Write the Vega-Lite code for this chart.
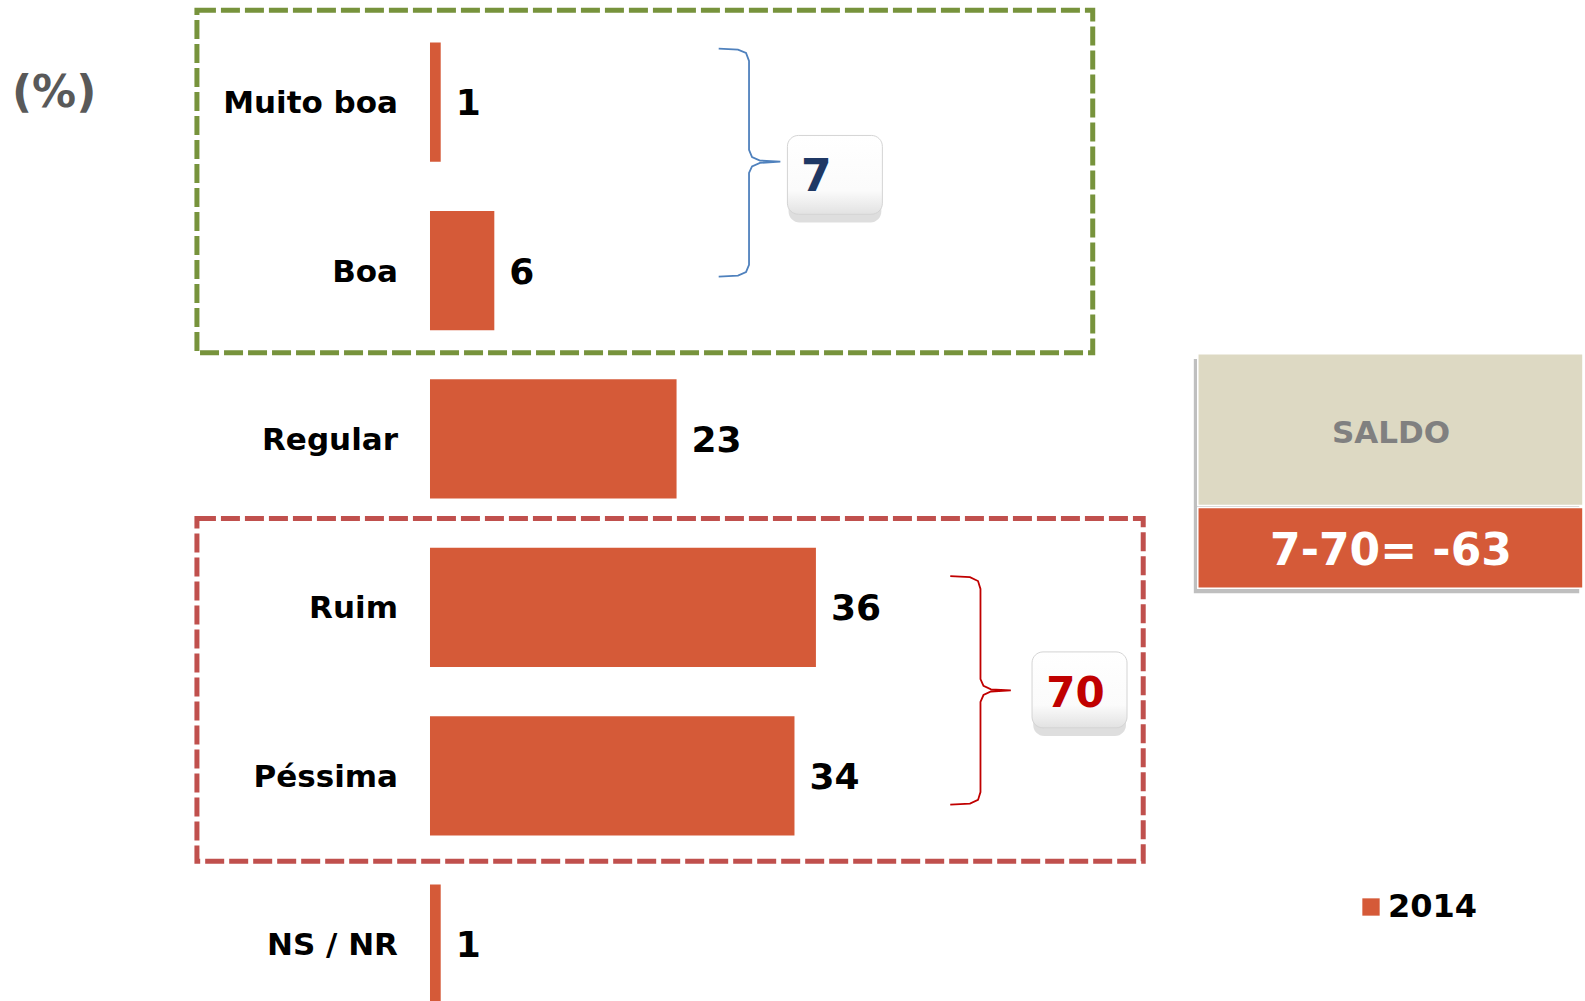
{
  "$schema": "https://vega.github.io/schema/vega-lite/v6.json",
  "width": 1585,
  "height": 1001,
  "autosize": {"type": "none"},
  "padding": 0,
  "background": "white",
  "config": {"view": {"stroke": null}, "font": "DejaVu Sans"},
  "layer": [
    {
      "data": {"values": [
        {"categoria": "Muito boa", "pct": 1, "ano": "2014"},
        {"categoria": "Boa", "pct": 6, "ano": "2014"},
        {"categoria": "Regular", "pct": 23, "ano": "2014"},
        {"categoria": "Ruim", "pct": 36, "ano": "2014"},
        {"categoria": "Péssima", "pct": 34, "ano": "2014"},
        {"categoria": "NS / NR", "pct": 1, "ano": "2014"}
      ]},
      "encoding": {
        "y": {
          "field": "categoria", "type": "nominal", "sort": null,
          "scale": {"domain": ["Muito boa", "Boa", "Regular", "Ruim", "Péssima", "NS / NR"], "range": [0, 1046.3], "paddingInner": 0.292, "paddingOuter": 0.2524},
          "axis": null
        }
      },
      "layer": [
        {
          "mark": {"type": "bar"},
          "encoding": {
            "x": {"field": "pct", "type": "quantitative", "scale": {"domain": [-40.11, 107.74], "nice": false, "zero": false}, "axis": null},
            "x2": {"datum": 0},
            "color": {
              "field": "ano", "type": "nominal",
              "scale": {"range": ["#D55A38"]},
              "legend": {"orient": "none", "legendX": 1355, "legendY": 891, "title": null, "symbolType": "square", "symbolSize": 300, "symbolStrokeWidth": 0, "labelFontSize": 32, "labelFont": "DejaVu Sans", "labelFontWeight": "bold", "labelColor": "black", "labelOffset": 1, "padding": 0}
            }
          }
        },
        {
          "mark": {"type": "text", "align": "right", "baseline": "middle", "dx": -32, "dy": 2, "fontSize": 31, "fontWeight": "bold", "color": "black"},
          "encoding": {"x": {"datum": 0}, "text": {"field": "categoria"}}
        },
        {
          "mark": {"type": "text", "align": "left", "baseline": "middle", "dx": 15, "dy": 2, "fontSize": 36, "fontWeight": "bold", "color": "black"},
          "encoding": {"x": {"field": "pct", "type": "quantitative"}, "text": {"field": "pct"}}
        }
      ]
    },
    {
      "data": {"values": [{}]},
      "layer": [
        {
          "mark": {"type": "rect", "fill": "white", "fillOpacity": 0, "stroke": "#77933C", "strokeWidth": 5, "strokeDash": [19, 5]},
          "encoding": {
            "x": {"datum": -21.74},
            "x2": {"datum": 61.82},
            "y": {"datum": -0.545, "type": "quantitative", "scale": {"domain": [-0.6063, 5.338], "reverse": true, "nice": false, "zero": false}, "axis": null},
            "y2": {"datum": 1.489}
          }
        },
        {
          "mark": {"type": "rect", "fill": "white", "fillOpacity": 0, "stroke": "#C0504D", "strokeWidth": 5, "strokeDash": [19, 5]},
          "encoding": {"x": {"datum": -21.74}, "x2": {"datum": 66.53}, "y": {"datum": 2.473}, "y2": {"datum": 4.508}}
        },
        {
          "data": {"values": [
            {"i": 1, "u": 26.93, "r": -0.318}, {"i": 2, "u": 28.73, "r": -0.312}, {"i": 3, "u": 29.48, "r": -0.292},
            {"i": 4, "u": 29.76, "r": -0.244}, {"i": 5, "u": 29.76, "r": 0.284}, {"i": 6, "u": 30.04, "r": 0.326},
            {"i": 7, "u": 30.78, "r": 0.347}, {"i": 8, "u": 32.68, "r": 0.354}, {"i": 9, "u": 30.78, "r": 0.361},
            {"i": 10, "u": 30.04, "r": 0.382}, {"i": 11, "u": 29.76, "r": 0.421}, {"i": 12, "u": 29.76, "r": 0.967},
            {"i": 13, "u": 29.48, "r": 1.009}, {"i": 14, "u": 28.73, "r": 1.030}, {"i": 15, "u": 26.93, "r": 1.036}
          ]},
          "mark": {"type": "line", "stroke": "#4F81BD", "strokeWidth": 1.8},
          "encoding": {"x": {"field": "u", "type": "quantitative"}, "y": {"field": "r", "type": "quantitative"}, "order": {"field": "i"}}
        },
        {
          "data": {"values": [
            {"i": 1, "u": 48.53, "r": 2.815}, {"i": 2, "u": 50.37, "r": 2.821}, {"i": 3, "u": 51.12, "r": 2.844},
            {"i": 4, "u": 51.35, "r": 2.891}, {"i": 5, "u": 51.35, "r": 3.426}, {"i": 6, "u": 51.63, "r": 3.467},
            {"i": 7, "u": 52.33, "r": 3.487}, {"i": 8, "u": 54.18, "r": 3.493}, {"i": 9, "u": 52.33, "r": 3.500},
            {"i": 10, "u": 51.63, "r": 3.521}, {"i": 11, "u": 51.35, "r": 3.562}, {"i": 12, "u": 51.35, "r": 4.097},
            {"i": 13, "u": 51.12, "r": 4.144}, {"i": 14, "u": 50.37, "r": 4.166}, {"i": 15, "u": 48.53, "r": 4.172}
          ]},
          "mark": {"type": "line", "stroke": "#C00000", "strokeWidth": 1.8},
          "encoding": {"x": {"field": "u", "type": "quantitative"}, "y": {"field": "r", "type": "quantitative"}, "order": {"field": "i"}}
        },
        {
          "mark": {"type": "rect", "cornerRadius": 11, "fill": "#a0a0a0", "opacity": 0.35},
          "encoding": {"x": {"datum": 33.45}, "x2": {"datum": 42.1}, "y": {"datum": 0.23}, "y2": {"datum": 0.715}}
        },
        {
          "mark": {"type": "rect", "cornerRadius": 11, "stroke": "#d4d4d4", "strokeWidth": 1,
            "fill": {"gradient": "linear", "x1": 0, "y1": 0, "x2": 0, "y2": 1, "stops": [{"offset": 0, "color": "#ffffff"}, {"offset": 0.7, "color": "#fbfbfb"}, {"offset": 1, "color": "#e2e2e2"}]}},
          "encoding": {"x": {"datum": 33.34}, "x2": {"datum": 42.2}, "y": {"datum": 0.198}, "y2": {"datum": 0.666}}
        },
        {
          "data": {"values": [{"t": "7"}]},
          "mark": {"type": "text", "align": "left", "baseline": "middle", "dy": 3, "fontSize": 44, "fontWeight": "bold", "color": "#1F3864"},
          "encoding": {"x": {"datum": 34.61}, "y": {"datum": 0.432}, "text": {"field": "t"}}
        },
        {
          "mark": {"type": "rect", "cornerRadius": 11, "fill": "#a0a0a0", "opacity": 0.35},
          "encoding": {"x": {"datum": 56.27}, "x2": {"datum": 64.92}, "y": {"datum": 3.295}, "y2": {"datum": 3.765}}
        },
        {
          "mark": {"type": "rect", "cornerRadius": 11, "stroke": "#d4d4d4", "strokeWidth": 1,
            "fill": {"gradient": "linear", "x1": 0, "y1": 0, "x2": 0, "y2": 1, "stops": [{"offset": 0, "color": "#ffffff"}, {"offset": 0.7, "color": "#fbfbfb"}, {"offset": 1, "color": "#e2e2e2"}]}},
          "encoding": {"x": {"datum": 56.16}, "x2": {"datum": 65.02}, "y": {"datum": 3.265}, "y2": {"datum": 3.716}}
        },
        {
          "data": {"values": [{"t": "70"}]},
          "mark": {"type": "text", "align": "center", "baseline": "middle", "dy": 3, "fontSize": 42, "fontWeight": "bold", "color": "#C00000"},
          "encoding": {"x": {"datum": 60.21}, "y": {"datum": 3.499}, "text": {"field": "t"}}
        },
        {
          "mark": {"type": "rect", "fill": "#7f7f7f", "opacity": 0.5},
          "encoding": {"x": {"datum": 71.25}, "x2": {"datum": 107.2}, "y": {"datum": 1.525}, "y2": {"datum": 2.917}}
        },
        {
          "mark": {"type": "rect", "fill": "#DDD9C3", "stroke": "white", "strokeWidth": 1.5},
          "encoding": {"x": {"datum": 71.62}, "x2": {"datum": 107.55}, "y": {"datum": 1.495}, "y2": {"datum": 2.395}}
        },
        {
          "mark": {"type": "rect", "fill": "#D55A38", "stroke": "white", "strokeWidth": 1.5},
          "encoding": {"x": {"datum": 71.62}, "x2": {"datum": 107.55}, "y": {"datum": 2.407}, "y2": {"datum": 2.887}}
        },
        {
          "data": {"values": [{"t": "SALDO"}]},
          "mark": {"type": "text", "align": "center", "baseline": "middle", "dy": 2, "fontSize": 31, "fontWeight": "bold", "color": "#808080"},
          "encoding": {"x": {"datum": 89.64}, "y": {"datum": 1.957}, "text": {"field": "t"}}
        },
        {
          "data": {"values": [{"t": "7-70= -63"}]},
          "mark": {"type": "text", "align": "center", "baseline": "middle", "dy": 3, "fontSize": 44, "fontWeight": "bold", "color": "white"},
          "encoding": {"x": {"datum": 89.64}, "y": {"datum": 2.653}, "text": {"field": "t"}}
        },
        {
          "data": {"values": [{"t": "(%)"}]},
          "mark": {"type": "text", "align": "left", "baseline": "middle", "dy": 2, "fontSize": 44, "fontWeight": "bold", "color": "#595959"},
          "encoding": {"x": {"datum": -38.99}, "y": {"datum": -0.06}, "text": {"field": "t"}}
        }
      ]
    }
  ],
  "resolve": {"scale": {"y": "independent"}}
}
